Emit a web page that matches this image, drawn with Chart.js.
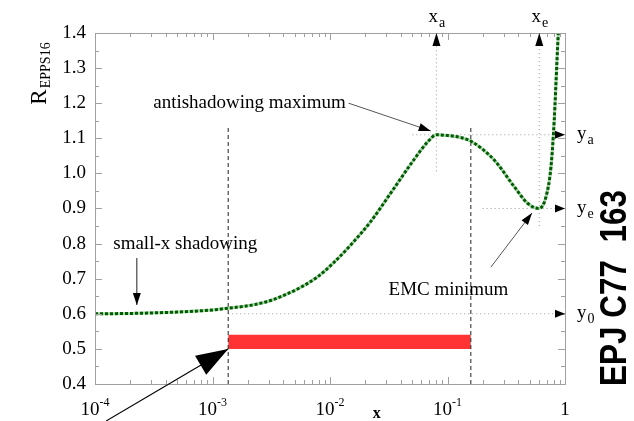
<!DOCTYPE html>
<html>
<head>
<meta charset="utf-8">
<script src="https://cdn.jsdelivr.net/npm/chart.js@4/dist/chart.umd.min.js"></script>
<style>
  body { margin: 0; background: #fff; }
  canvas { display: block; }
</style>
</head>
<body>
<canvas id="myChart" width="634" height="421"></canvas>
<script>
// EPPS16 nuclear modification
var xValues = [1e-4, 2e-4, 5e-4, 1e-3, 1.36e-3, 2.1e-3, 2.93e-3, 4.01e-3, 5.6e-3, 7.81e-3, 0.0107, 0.015, 0.0221,
               0.0348, 0.0515, 0.0679, 0.0805, 0.1, 0.13, 0.16, 0.25, 0.37, 0.48, 0.6, 0.69, 0.76, 0.81, 0.855, 0.877, 0.9];
var rValues = [0.600, 0.601, 0.605, 0.611, 0.616, 0.624, 0.635, 0.652, 0.675, 0.705, 0.745, 0.796, 0.862,
               0.956, 1.038, 1.090, 1.110, 1.108, 1.102, 1.091, 1.038, 0.962, 0.915, 0.900, 0.934, 1.019, 1.152, 1.323, 1.400, 1.48];

// x range of the red band and its y extent
var bandX = [1.36e-3, 0.158];
var bandY = [0.5, 0.54];

// characteristic points
var xa = 0.0805, ya = 1.110;
var xe = 0.604, ye = 0.900;
var y0 = 0.600;

var yTicks = [0.4, 0.5, 0.6, 0.7, 0.8, 0.9, 1.0, 1.1, 1.2, 1.3, 1.4];
var xTickValues = [1e-4, 1e-3, 1e-2, 1e-1, 1];
var xTickExponents = ['-4', '-3', '-2', '-1', null];

var serif = '"Liberation Serif", "Times New Roman", serif';

function pts(xs, ys) {
    return xs.map(function (x, i) { return { x: x, y: ys[i] }; });
}

function refLine(data, dash, color) {
    return {
        data: data, borderColor: color, borderWidth: 1, borderDash: dash,
        pointRadius: 0, fill: false, tension: 0
    };
}

var dotted = [1, 3];
var dashed = [4, 3];
var grey = '#9a9a9a';

function arrowHead(ctx, x1, y1, x2, y2, len, half) {
    var a = Math.atan2(y2 - y1, x2 - x1);
    ctx.beginPath();
    ctx.moveTo(x2, y2);
    ctx.lineTo(x2 - len * Math.cos(a) + half * Math.sin(a), y2 - len * Math.sin(a) - half * Math.cos(a));
    ctx.lineTo(x2 - len * Math.cos(a) - half * Math.sin(a), y2 - len * Math.sin(a) + half * Math.cos(a));
    ctx.closePath();
    ctx.fill();
}

function arrow(ctx, x1, y1, x2, y2, color, width, len, half) {
    ctx.strokeStyle = color;
    ctx.fillStyle = 'black';
    ctx.lineWidth = width;
    ctx.setLineDash([]);
    ctx.beginPath();
    ctx.moveTo(x1, y1);
    ctx.lineTo(x2, y2);
    ctx.stroke();
    arrowHead(ctx, x1, y1, x2, y2, len, half);
}

function subText(ctx, main, sub, x, y, size, subSize, dy, align) {
    ctx.font = size + 'px ' + serif;
    var w1 = ctx.measureText(main).width;
    ctx.font = subSize + 'px ' + serif;
    var w2 = ctx.measureText(sub).width;
    var left = align === 'center' ? x - (w1 + w2) / 2 : x;
    ctx.textAlign = 'left';
    ctx.textBaseline = 'alphabetic';
    ctx.font = size + 'px ' + serif;
    ctx.fillText(main, left, y);
    ctx.font = subSize + 'px ' + serif;
    ctx.fillText(sub, left + w1 + 1, y + dy);
}

var decorations = {
    id: 'decorations',
    afterDraw: function (chart) {
        var ctx = chart.ctx;
        var a = chart.chartArea;
        var xs = chart.scales.x, ys = chart.scales.y;
        var X = function (v) { return xs.getPixelForValue(v); };
        var Y = function (v) { return ys.getPixelForValue(v); };
        ctx.save();

        // frame
        ctx.strokeStyle = '#a0a0a0';
        ctx.lineWidth = 1;
        ctx.setLineDash([]);
        ctx.strokeRect(a.left + 0.5, a.top + 0.5, a.right - a.left, a.bottom - a.top);

        // inward ticks
        ctx.beginPath();
        for (var d = -4; d < 0; d++) {
            for (var m = 1; m <= 9; m++) {
                var px = Math.round(X(m * Math.pow(10, d))) + 0.5;
                var len = m === 1 ? 7 : 4;
                ctx.moveTo(px, a.bottom); ctx.lineTo(px, a.bottom - len);
                ctx.moveTo(px, a.top); ctx.lineTo(px, a.top + len);
            }
        }
        for (var k = 0; k <= 20; k++) {
            var py = Math.round(Y(0.4 + k * 0.05)) + 0.5;
            var ln = k % 2 === 0 ? 7 : 4;
            ctx.moveTo(a.left, py); ctx.lineTo(a.left + ln, py);
            ctx.moveTo(a.right, py); ctx.lineTo(a.right - ln, py);
        }
        ctx.stroke();

        ctx.fillStyle = 'black';

        // x tick labels
        xTickValues.forEach(function (v, i) {
            var px = X(v);
            var ex = xTickExponents[i];
            if (ex === null) {
                ctx.font = '19px ' + serif;
                ctx.textAlign = 'center';
                ctx.textBaseline = 'alphabetic';
                ctx.fillText('1', px, 415);
                return;
            }
            ctx.font = '19px ' + serif;
            var w1 = ctx.measureText('10').width;
            ctx.font = '12px ' + serif;
            var w2 = ctx.measureText(ex).width;
            var left = px - (w1 + w2) / 2;
            ctx.textAlign = 'left';
            ctx.font = '19px ' + serif;
            ctx.fillText('10', left, 415);
            ctx.font = '12px ' + serif;
            ctx.fillText(ex, left + w1, 406);
        });

        // x axis title
        ctx.font = 'bold 16px ' + serif;
        ctx.textAlign = 'center';
        ctx.fillText('x', X(0.025), 418);

        // y axis title (rotated)
        ctx.save();
        ctx.translate(46, 74);
        ctx.rotate(-Math.PI / 2);
        subText(ctx, 'R', 'EPPS16', 0, 0, 23, 14, 4, 'center');
        ctx.restore();

        // labels of the characteristic points
        subText(ctx, 'x', 'a', X(xa), 22, 19, 14, 5, 'center');
        subText(ctx, 'x', 'e', X(xe), 22, 19, 14, 5, 'center');
        subText(ctx, 'y', 'a', a.right + 12, Y(ya) + 4, 19, 14, 5, 'left');
        subText(ctx, 'y', 'e', a.right + 12, Y(ye) + 4, 19, 14, 5, 'left');
        subText(ctx, 'y', '0', a.right + 12, Y(y0) + 4, 19, 14, 5, 'left');

        // small arrow heads on the frame
        ctx.fillStyle = 'black';
        [xa, xe].forEach(function (v) {
            arrowHead(ctx, X(v), a.top + 20, X(v), a.top, 13, 4);
        });
        [ya, ye, y0].forEach(function (v) {
            arrowHead(ctx, a.right - 20, Y(v), a.right, Y(v), 10, 4);
        });

        // annotations
        ctx.font = '19px ' + serif;
        ctx.textAlign = 'left';
        ctx.textBaseline = 'middle';
        ctx.fillText('antishadowing maximum', X(3.13e-4), Y(1.2));
        ctx.fillText('small-x shadowing', X(1.43e-4), Y(0.8));
        ctx.fillText('EMC minimum', X(0.0315), Y(0.668));

        arrow(ctx, X(0.0144), Y(1.2), X(0.072), Y(1.121), '#555', 1, 12, 4);
        arrow(ctx, X(2.27e-4), Y(0.759), X(2.27e-4), Y(0.625), '#222', 1, 12, 4);
        arrow(ctx, X(0.234), Y(0.733), X(0.524), Y(0.887), '#555', 1, 12, 4);

        // big arrow pointing at the corner of the band
        var tx = X(bandX[0]), ty = Y(bandY[0]);
        arrow(ctx, tx - 122, ty + 72, tx, ty, 'black', 1.2, 32, 11);

        // journal tag
        ctx.save();
        ctx.translate(626, 386);
        ctx.rotate(-Math.PI / 2);
        ctx.font = 'bold 36px "Liberation Sans", Arial, sans-serif';
        var tag = 'EPJ C77  163';
        var tw = ctx.measureText(tag).width;
        ctx.scale(196 / tw, 1);
        ctx.textAlign = 'left';
        ctx.textBaseline = 'alphabetic';
        ctx.fillStyle = 'black';
        ctx.fillText(tag, 0, 0);
        ctx.restore();

        ctx.restore();
    }
};

var ctx = document.getElementById('myChart').getContext('2d');
var myChart = new Chart(ctx, {
    type: 'line',
    data: {
        // earlier datasets are painted on top
        datasets: [
            {
                data: pts(xValues, rValues),
                borderColor: '#005c00',
                borderWidth: 3,
                borderDash: [3, 2],
                pointRadius: 0,
                fill: false,
                cubicInterpolationMode: 'monotone'
            },
            {
                data: pts(xValues, rValues),
                borderColor: '#a8d4a8',
                borderWidth: 3,
                pointRadius: 0,
                fill: false,
                cubicInterpolationMode: 'monotone'
            },
            refLine(pts([bandX[0], bandX[0]], [0.4, 1.138]), dashed, '#222'),
            refLine(pts([bandX[1], bandX[1]], [0.4, 1.138]), dashed, '#222'),
            refLine(pts([bandX[0], 1], [y0, y0]), dotted, grey),
            refLine(pts([0.0502, 1], [ya, ya]), dotted, grey),
            refLine(pts([0.199, 1], [ye, ye]), dotted, grey),
            refLine(pts([xa, xa], [1.006, 1.4]), dotted, grey),
            refLine(pts([xe, xe], [0.85, 1.4]), dotted, grey),
            {
                data: pts(bandX, [bandY[1], bandY[1]]),
                fill: { value: bandY[0] },
                backgroundColor: '#ff3333',
                borderWidth: 0,
                pointRadius: 0
            }
        ]
    },
    options: {
        responsive: false,
        animation: false,
        layout: { padding: { top: 33, right: 69, left: 0, bottom: 0 } },
        plugins: {
            legend: { display: false },
            tooltip: { enabled: false }
        },
        scales: {
            x: {
                type: 'logarithmic',
                min: 1e-4,
                max: 1,
                ticks: { display: false },
                grid: { display: false, drawTicks: false },
                border: { display: false },
                afterFit: function (scale) { scale.height = 37; }
            },
            y: {
                min: 0.4,
                max: 1.4,
                afterBuildTicks: function (scale) {
                    scale.ticks = yTicks.map(function (v) { return { value: v }; });
                },
                ticks: {
                    color: '#000',
                    padding: 9,
                    font: { family: serif, size: 19 },
                    callback: function (v) { return Number(v).toFixed(1); }
                },
                grid: { display: false, drawTicks: false },
                border: { display: false },
                afterFit: function (scale) { scale.width = 95; }
            }
        }
    },
    plugins: [decorations]
});
</script>
</body>
</html>
